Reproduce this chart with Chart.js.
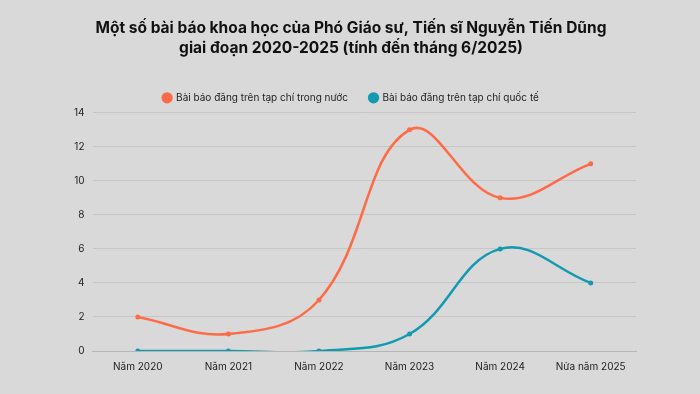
<!DOCTYPE html>
<html>
<head>
<meta charset="utf-8">
<script src="https://cdn.jsdelivr.net/npm/chart.js@4/dist/chart.umd.min.js"></script>
<style>
  html, body { margin: 0; padding: 0; background: #d9d9d9; }
  #wrap { width: 700px; height: 394px; position: relative; }
</style>
</head>
<body>
<div id="wrap"><canvas id="chart" width="700" height="394"></canvas></div>
<script>
// Dữ liệu
const categories = ['Năm 2020', 'Năm 2021', 'Năm 2022', 'Năm 2023', 'Năm 2024', 'Nửa năm 2025'];
const trongNuoc = [2, 1, 3, 13, 9, 11];
const quocTe = [0, 0, 0, 1, 6, 4];
const seriesNames = ['Bài báo đăng trên tạp chí trong nước', 'Bài báo đăng trên tạp chí quốc tế'];
const titleLines = ['Một số bài báo khoa học của Phó Giáo sư, Tiến sĩ Nguyễn Tiến Dũng', 'giai đoạn 2020-2025 (tính đến tháng 6/2025)'];

const FONT = "'Inter', 'Roboto', sans-serif";

const ctx = document.getElementById('chart').getContext('2d');
new Chart(ctx, {
    type: 'line',
    data: {
        labels: categories,
        datasets: [{
            label: seriesNames[0],
            data: trongNuoc,
            borderColor: '#ff6b47',
            backgroundColor: '#ff6b47',
            borderWidth: 2.5,
            pointRadius: 2.5,
            pointBorderWidth: 0,
            pointHoverRadius: 2.5,
            tension: 0.4,
            fill: false
        }, {
            label: seriesNames[1],
            data: quocTe,
            borderColor: '#1399b0',
            backgroundColor: '#1399b0',
            borderWidth: 2.5,
            pointRadius: 2.5,
            pointBorderWidth: 0,
            pointHoverRadius: 2.5,
            tension: 0.4,
            fill: false
        }]
    },
    options: {
        responsive: false,
        animation: false,
        elements: { line: { capBezierPoints: false } },
        layout: { padding: { left: 66, right: 64, top: 14, bottom: 19 } },
        plugins: {
            title: {
                display: true,
                text: titleLines,
                color: '#111',
                font: { family: FONT, size: 15.5, weight: 'bold', lineHeight: 1.3 },
                padding: { top: 4, bottom: 13 }
            },
            legend: {
                display: true,
                labels: {
                    usePointStyle: true,
                    pointStyle: 'circle',
                    boxWidth: 8,
                    boxHeight: 8,
                    color: '#222',
                    padding: 21.5,
                    font: { family: FONT, size: 10 }
                }
            },
            tooltip: { enabled: false }
        },
        scales: {
            x: {
                offset: true,
                grid: { display: false },
                border: { color: '#b5b5b5' },
                ticks: { color: '#222', font: { family: FONT, size: 10 }, maxRotation: 0, padding: 2 }
            },
            y: {
                min: 0,
                max: 14,
                ticks: { stepSize: 2, color: '#222', font: { family: FONT, size: 10 }, padding: 8 },
                grid: { color: '#c6c6c6', drawTicks: false },
                border: { display: false }
            }
        }
    }
});
</script>
</body>
</html>
